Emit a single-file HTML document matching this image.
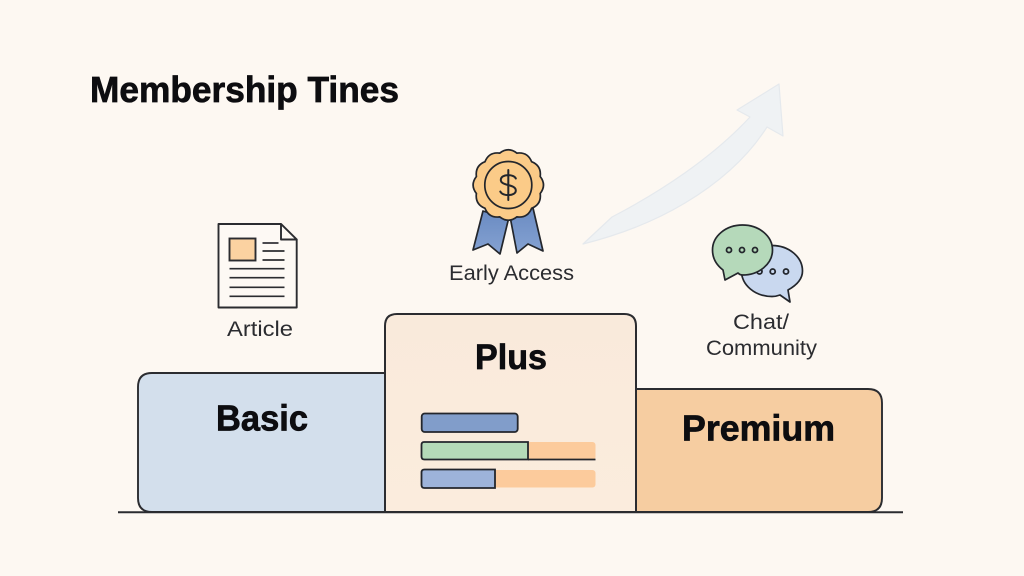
<!DOCTYPE html>
<html lang="en">
<head>
<meta charset="utf-8">
<title>Membership Tiers</title>
<style>
html,body{margin:0;padding:0;background:#fdf8f2;width:1024px;height:576px;overflow:hidden}
svg{display:block}
text{font-family:"Liberation Sans",sans-serif;fill:#17181c}
.t{font-weight:700;fill:#0d0d10;stroke:#0d0d10;stroke-width:.7px}
.l{font-size:21.500px;fill:#2b2c30}
</style>
</head>
<body>
<svg width="1024" height="576" viewBox="0 0 1024 576" xmlns="http://www.w3.org/2000/svg">
<defs>
<linearGradient id="rib" x1="0" y1="0" x2="0" y2="1"><stop offset="0" stop-color="#6a8bc2"/><stop offset="1" stop-color="#85a2d2"/></linearGradient>
<linearGradient id="pl" x1="0" y1="0" x2="0" y2="1"><stop offset="0" stop-color="#f9eadb"/><stop offset="1" stop-color="#fbecdd"/></linearGradient>
</defs>
<rect width="1024" height="576" fill="#fdf8f2"/>

<text class="t" x="90" y="102" font-size="36" textLength="309" lengthAdjust="spacingAndGlyphs">Membership Tines</text>

<!-- arrow -->
<path d="M583 244 L612 217 C660 192 712 158 750 117 L737 110 L779 84 L783 136 L767 127 C746 160 715 185 685 203 C650 224 615 236 583 244 Z" fill="#eff2f4" stroke="#e5e9ed" stroke-width="1.200" stroke-linejoin="round"/>

<!-- tier boxes -->
<path d="M385 373 H152 Q138 373 138 387 V498 Q138 512 152 512 H385 Z" fill="#d3dfec" stroke="#2b2c30" stroke-width="1.900"/>
<path d="M636 389 H868 Q882 389 882 403 V498 Q882 512 868 512 H636 Z" fill="#f6cda1" stroke="#2b2c30" stroke-width="1.900"/>
<path d="M385 512 V326 Q385 314 397 314 H624 Q636 314 636 326 V512 Z" fill="url(#pl)" stroke="#2b2c30" stroke-width="2"/>
<line x1="118" y1="512.300" x2="903" y2="512.300" stroke="#2b2c30" stroke-width="2"/>

<text class="t" x="216" y="430.500" font-size="36" textLength="92" lengthAdjust="spacingAndGlyphs">Basic</text>
<text class="t" x="475" y="369" font-size="35" textLength="72" lengthAdjust="spacingAndGlyphs">Plus</text>
<text class="t" x="682" y="440.500" font-size="36" textLength="153" lengthAdjust="spacingAndGlyphs">Premium</text>

<!-- bars -->
<rect x="421.700" y="413.500" width="96" height="18.500" rx="3" fill="#819dca" stroke="#23262c" stroke-width="1.800"/>
<rect x="521" y="442" width="74.500" height="18" rx="3" fill="#fccb9c"/>
<path d="M528 442 H424 Q421.500 442 421.500 445 V456.500 Q421.500 459.500 424.500 459.500 H528 Z" fill="#b4dab8" stroke="#23262c" stroke-width="1.800"/>
<line x1="528" y1="459.500" x2="595.500" y2="459.500" stroke="#23262c" stroke-width="1.700"/>
<rect x="490" y="470" width="105.500" height="17.500" rx="3" fill="#fccb9c"/>
<path d="M495 469.500 H424.500 Q421.500 469.500 421.500 472.500 V485 Q421.500 488 424.500 488 H495 Z" fill="#9db3da" stroke="#23262c" stroke-width="1.800"/>

<!-- document -->
<path d="M218.500 224 H281 L296.700 239.500 V307.500 H218.500 Z" fill="#fdf9f4" stroke="#2b2c30" stroke-width="1.900" stroke-linejoin="round"/>
<path d="M281 224 V239.500 H296.700 Z" fill="#fdf9f4" stroke="#2b2c30" stroke-width="1.900" stroke-linejoin="round"/>
<rect x="229.500" y="238.500" width="26" height="22" fill="#fbd2a1" stroke="#2b2c30" stroke-width="1.900"/>
<g stroke="#2b2c30" stroke-width="1.700">
<line x1="262.500" y1="243" x2="278.500" y2="243"/>
<line x1="262.500" y1="251" x2="284.500" y2="251"/>
<line x1="262.500" y1="260" x2="284.500" y2="260"/>
<line x1="229.500" y1="268.700" x2="284.500" y2="268.700"/>
<line x1="229.500" y1="277.700" x2="284.500" y2="277.700"/>
<line x1="229.500" y1="287.300" x2="284.500" y2="287.300"/>
<line x1="229.500" y1="296.300" x2="284.500" y2="296.300"/>
</g>
<text class="l" x="227" y="336" textLength="66" lengthAdjust="spacingAndGlyphs">Article</text>

<!-- badge -->
<path d="M483 211 L473 250 L488 244 L500 254 L508.500 219 Z" fill="url(#rib)" stroke="#23262c" stroke-width="1.700" stroke-linejoin="round"/>
<path d="M510.500 219 L517 253 L528 244 L543 251 L533 208 Z" fill="url(#rib)" stroke="#23262c" stroke-width="1.700" stroke-linejoin="round"/>
<g transform="translate(508.300 185)">
<path d="M31.900 -8.500 Q38.500 0 31.900 8.500 Q33.300 19.300 23.300 23.300 Q19.300 33.300 8.500 31.900 Q0 38.500 -8.500 31.900 Q-19.300 33.300 -23.300 23.300 Q-33.300 19.300 -31.900 8.500 Q-38.500 0 -31.900 -8.500 Q-33.300 -19.300 -23.300 -23.300 Q-19.300 -33.300 -8.500 -31.900 Q0 -38.500 8.500 -31.900 Q19.300 -33.300 23.300 -23.300 Q33.300 -19.300 31.900 -8.500 Z" fill="#fbcb88" stroke="#23262c" stroke-width="1.700"/>
<circle r="23.500" fill="#fbcb88" stroke="#23262c" stroke-width="1.700"/>
<path d="M7.500 -6.500 C6 -11 -7.500 -11.500 -7.500 -5 C-7.500 1 7.500 -1 7.500 5.500 C7.500 11.500 -6 11.500 -8 6.500 M0 -15 V15" fill="none" stroke="#23262c" stroke-width="2" stroke-linecap="round"/>
</g>
<text class="l" x="449" y="280" textLength="125" lengthAdjust="spacingAndGlyphs">Early Access</text>

<!-- chat -->
<path d="M780 295 L790 302 L788 290 Q802.500 282 802.500 271 C802.500 257 789 245.500 772 245.500 C755 245.500 741.500 257 741.500 271 C741.500 285 755 296.500 772 296.500 Q776 296.500 780 295 Z" fill="#c9d8ef" stroke="#23262c" stroke-width="1.700" stroke-linejoin="round"/>
<g fill="#c9d8ef" stroke="#23262c" stroke-width="1.800">
<circle cx="759.500" cy="271.500" r="2.500"/><circle cx="772.700" cy="271.500" r="2.500"/><circle cx="786" cy="271.500" r="2.500"/>
</g>
<path d="M723 270 L725 280 L738 273 Q740 275 742.500 275 C759 275 772.500 264 772.500 250 C772.500 236 759 225 742.500 225 C726 225 712.500 236 712.500 250 C712.500 258 716.500 265 723 270 Z" fill="#b5d9ba" stroke="#23262c" stroke-width="1.700" stroke-linejoin="round"/>
<g fill="#b5d9ba" stroke="#23262c" stroke-width="1.800">
<circle cx="729" cy="250" r="2.500"/><circle cx="742" cy="250" r="2.500"/><circle cx="755" cy="250" r="2.500"/>
</g>
<text class="l" x="733" y="329" textLength="56" lengthAdjust="spacingAndGlyphs">Chat/</text>
<text class="l" x="706" y="355" textLength="111" lengthAdjust="spacingAndGlyphs">Community</text>
</svg>
</body>
</html>
